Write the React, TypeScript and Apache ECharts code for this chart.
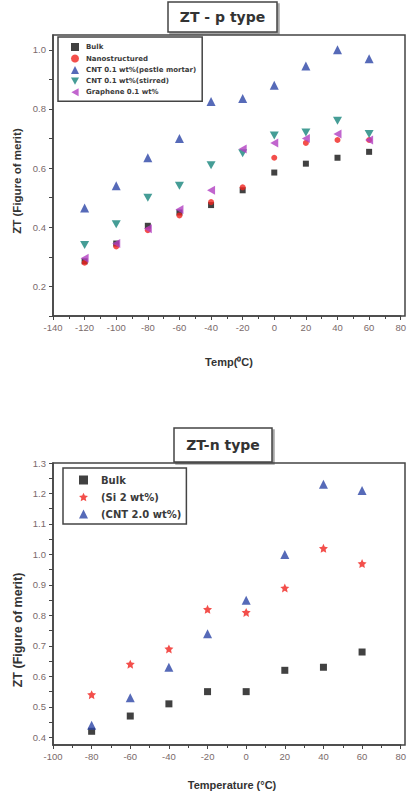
import React, { useEffect, useRef } from "react";
import * as echarts from "echarts";

// ---- Data: ZT - p type ----
const tempsP = [-120, -100, -80, -60, -40, -20, 0, 20, 40, 60];
const bulkP = [0.285, 0.345, 0.405, 0.45, 0.475, 0.525, 0.585, 0.615, 0.635, 0.655];
const nanoP = [0.28, 0.335, 0.39, 0.44, 0.485, 0.535, 0.635, 0.685, 0.695, 0.695];
const cntPestleP = [0.465, 0.54, 0.635, 0.7, 0.825, 0.835, 0.88, 0.945, 1.0, 0.97];
const cntStirredP = [0.34, 0.41, 0.5, 0.54, 0.61, 0.65, 0.71, 0.72, 0.76, 0.715];
const grapheneP = [0.295, 0.345, 0.395, 0.46, 0.525, 0.665, 0.685, 0.7, 0.715, 0.695];
const yLabelsP = [0.2, 0.4, 0.6, 0.8, 1.0];
const yTicksP = [0.1, 0.2, 0.3, 0.4, 0.5, 0.6, 0.7, 0.8, 0.9, 1.0];

// ---- Data: ZT-n type ----
const tempsN = [-80, -60, -40, -20, 0, 20, 40, 60];
const bulkN = [0.42, 0.47, 0.51, 0.55, 0.55, 0.62, 0.63, 0.68];
const siN = [0.54, 0.64, 0.69, 0.82, 0.81, 0.89, 1.02, 0.97];
const cntN = [0.44, 0.53, 0.63, 0.74, 0.85, 1.0, 1.23, 1.21];
const yLabelsN = [0.4, 0.5, 0.6, 0.7, 0.8, 0.9, 1.0, 1.1, 1.2, 1.3];
const yTicksN = [0.4, 0.45, 0.5, 0.55, 0.6, 0.65, 0.7, 0.75, 0.8, 0.85, 0.9, 0.95, 1.0, 1.05, 1.1, 1.15, 1.2, 1.25, 1.3];

const pair = (xs: number[], ys: number[]) => xs.map((x, i) => [x, ys[i]]);

const DOWN_TRI = "path://M0,0 L10,0 L5,9 Z";
const LEFT_TRI = "path://M9,0 L9,10 L0,5 Z";
const STAR = "path://M50,0 L64,30 L98,35 L73,58 L80,93 L50,76 L20,93 L27,58 L2,35 L36,30 Z";

const LABEL_FONT = "Liberation Sans, Arial, sans-serif";
const BOLD_FONT = "DejaVu Sans, Liberation Sans, sans-serif";
const labelColor = "#7a6a6a";
const axisColor = "#444";

function xAxisBase(min: number, max: number) {
  return {
    type: "value",
    min,
    max,
    interval: 20,
    axisLine: { show: true, onZero: false, lineStyle: { color: axisColor, width: 1.5 } },
    axisTick: { show: true, length: 4, lineStyle: { color: axisColor } },
    minorTick: { show: true, splitNumber: 2, length: 3, lineStyle: { color: axisColor } },
    splitLine: { show: false },
    axisLabel: { color: labelColor, fontSize: 9.5, fontFamily: LABEL_FONT, margin: 6, showMinLabel: true, showMaxLabel: true },
  };
}

function yAxisBase(min: number, max: number, labels: number[], ticks: number[]) {
  return {
    type: "value",
    min,
    max,
    axisLine: { show: true, onZero: false, lineStyle: { color: axisColor, width: 1.5 } },
    axisTick: { show: true, length: 4, customValues: ticks, lineStyle: { color: axisColor } },
    splitLine: { show: false },
    axisLabel: {
      color: labelColor,
      fontSize: 9.5,
      fontFamily: LABEL_FONT,
      margin: 7,
      customValues: labels,
      formatter: (v: number) => v.toFixed(1),
    },
  };
}

function titleBox(x: number, y: number, w: number, h: number, text: string) {
  return {
    type: "group",
    children: [
      {
        type: "rect",
        shape: { x, y, width: w, height: h },
        style: { fill: "#fff", stroke: "#444", lineWidth: 1.5, shadowColor: "rgba(0,0,0,0.35)", shadowOffsetX: 2, shadowOffsetY: 2, shadowBlur: 1 },
      },
      {
        type: "text",
        x: x + w / 2,
        y: y + h / 2,
        style: { text, fill: "#333", font: "bold 14px " + BOLD_FONT, align: "center", verticalAlign: "middle" },
      },
    ],
  };
}

function axisName(x: number, y: number, text: string, rotate: boolean, size: number) {
  return {
    type: "text",
    x,
    y,
    rotation: rotate ? Math.PI / 2 : 0,
    style: { text, fill: "#333", font: "bold " + size + "px " + LABEL_FONT, align: "center", verticalAlign: "middle" },
  };
}

function frame(x: number, y: number, w: number, h: number) {
  return {
    type: "rect",
    z: 100,
    silent: true,
    shape: { x, y, width: w, height: h },
    style: { fill: "none", stroke: axisColor, lineWidth: 1.5 },
  };
}

function optionP() {
  return {
    animation: false,
    backgroundColor: "#fff",
    grid: { left: 53, top: 35, width: 352, height: 281, show: false },
    xAxis: xAxisBase(-140, 80),
    yAxis: yAxisBase(0.1, 1.05, yLabelsP, yTicksP),
    legend: {
      left: 58,
      top: 37,
      orient: "vertical",
      backgroundColor: "#fff",
      borderColor: "#444",
      borderWidth: 1.5,
      padding: [6, 6, 5, 13],
      itemWidth: 8,
      itemHeight: 8,
      itemGap: 3.5,
      itemStyle: { borderWidth: 0 },
      textStyle: { fontSize: 7, fontWeight: "bold", fontFamily: BOLD_FONT, color: "#3a3a3a", padding: [0, 0, 0, 2] },
      data: ["Bulk", "Nanostructured", "CNT 0.1 wt%(pestle mortar)", "CNT 0.1 wt%(stirred)", "Graphene 0.1 wt%"],
    },
    graphic: [
      frame(53, 35, 352, 281),
      titleBox(168, 2, 109, 30, "ZT - p type"),
      axisName(17, 181, "ZT (Figure of merit)", true, 11.5),
      axisName(229, 362, "Temp(⁰C)", false, 11),
    ],
    series: [
      { name: "Bulk", type: "scatter", symbol: "rect", symbolSize: 6, itemStyle: { color: "#111" }, data: pair(tempsP, bulkP) },
      { name: "Nanostructured", type: "scatter", symbol: "circle", symbolSize: 6, itemStyle: { color: "#f0231e" }, data: pair(tempsP, nanoP) },
      { name: "CNT 0.1 wt%(pestle mortar)", type: "scatter", symbol: "triangle", symbolSize: 9, itemStyle: { color: "#2c45a6" }, data: pair(tempsP, cntPestleP) },
      { name: "CNT 0.1 wt%(stirred)", type: "scatter", symbol: DOWN_TRI, symbolSize: [9, 8], itemStyle: { color: "#17857c" }, data: pair(tempsP, cntStirredP) },
      { name: "Graphene 0.1 wt%", type: "scatter", symbol: LEFT_TRI, symbolSize: [8, 9], itemStyle: { color: "#b23fc2" }, data: pair(tempsP, grapheneP) },
    ],
  };
}

function optionN() {
  return {
    animation: false,
    backgroundColor: "#fff",
    grid: { left: 53, top: 63, width: 352, height: 282, show: false },
    xAxis: xAxisBase(-100, 80),
    yAxis: yAxisBase(0.375, 1.3, yLabelsN, yTicksN),
    legend: {
      left: 63,
      top: 68,
      orient: "vertical",
      backgroundColor: "#fff",
      borderColor: "#444",
      borderWidth: 1.5,
      padding: [7, 5, 5, 16],
      itemWidth: 9,
      itemHeight: 9,
      itemGap: 7,
      itemStyle: { borderWidth: 0 },
      textStyle: { fontSize: 10, fontWeight: "bold", fontFamily: BOLD_FONT, color: "#3a3a3a", padding: [0, 0, 0, 8] },
      data: ["Bulk", "(Si 2 wt%)", "(CNT 2.0 wt%)"],
    },
    graphic: [
      frame(53, 63, 352, 282),
      titleBox(174, 28, 98, 34, "ZT-n type"),
      axisName(18, 230, "ZT (Figure of merit)", true, 12.5),
      axisName(232, 385, "Temperature (°C)", false, 11),
    ],
    series: [
      { name: "Bulk", type: "scatter", symbol: "rect", symbolSize: 7, itemStyle: { color: "#111" }, data: pair(tempsN, bulkN) },
      { name: "(Si 2 wt%)", type: "scatter", symbol: STAR, symbolSize: 9, itemStyle: { color: "#f0231e" }, data: pair(tempsN, siN) },
      { name: "(CNT 2.0 wt%)", type: "scatter", symbol: "triangle", symbolSize: 9, itemStyle: { color: "#2c45a6" }, data: pair(tempsN, cntN) },
    ],
  };
}

function ChartBox(props: { top: number; height: number; make: () => any }) {
  const ref = useRef<HTMLDivElement>(null);
  useEffect(() => {
    if (!ref.current) return;
    const chart = echarts.init(ref.current, undefined, { renderer: "svg" });
    chart.setOption(props.make());
    return () => chart.dispose();
  }, []);
  return (
    <div
      ref={ref}
      style={{ position: "absolute", left: 0, top: props.top, width: 409, height: props.height }}
    />
  );
}

export default function App() {
  return (
    <div style={{ position: "absolute", left: 0, top: 0, width: 409, height: 797, background: "#fff" }}>
      <ChartBox top={0} height={400} make={optionP} />
      <ChartBox top={400} height={397} make={optionN} />
    </div>
  );
}
